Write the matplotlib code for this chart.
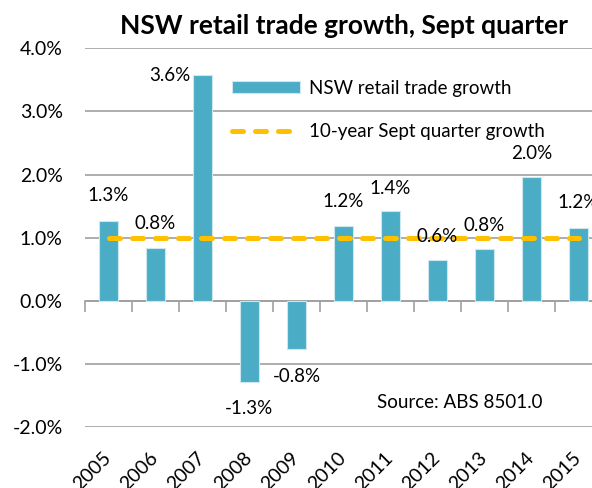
import numpy as np
import matplotlib
matplotlib.use('Agg')
import matplotlib.pyplot as plt

years = ['2005', '2006', '2007', '2008', '2009', '2010', '2011', '2012', '2013', '2014', '2015']
growth = [1.27, 0.83, 3.58, -1.28, -0.77, 1.19, 1.42, 0.64, 0.82, 1.96, 1.16]
avg_growth = [0.99, 0.99, 0.99, 0.99, 0.99, 0.99, 0.99, 0.99, 0.99, 0.99, 0.99]
yticks = [-2, -1, 0, 1, 2, 3, 4]

# label offsets in pixels (hand placed like the original)
label_dx = [0, 0, -33, 0, 0, 0, 0, 0, 0, 0, 0]
label_dy = [25, 25, -1, -27, -27, 24, 23, 24, 24, 24, 25]

plt.rcParams['font.family'] = ['Lato', 'DejaVu Sans']

fig = plt.figure(figsize=(5.92, 4.88), dpi=100)
ax = fig.add_axes([85/592, 61/488, 517/592, 378.7/488])

x = np.arange(len(years))
bars = ax.bar(x, growth, width=0.39, color='#4BACC6', edgecolor='#CDE7EF', linewidth=0.8,
              label='NSW retail trade growth', zorder=3)
line, = ax.plot(x, avg_growth, color='#FFC000', linewidth=3.6, linestyle=(0, (2.2, 2.4)),
                dash_capstyle='round', label='10-year Sept quarter growth', zorder=4)

for i, v in enumerate(growth):
    ax.annotate(f'{v:.1f}%', (x[i], v), xytext=(label_dx[i], label_dy[i]),
                textcoords='offset pixels', ha='center', va='center', fontsize=13.5, zorder=5)

ax.set_xlim(-0.5, len(years) - 0.5)
ax.set_ylim(-2, 4)
ax.set_yticks(yticks)
ax.set_yticklabels([f'{t:.1f}%' for t in yticks])
ax.yaxis.grid(True, color='#A0A0A0', linewidth=1.2, zorder=0)
ax.set_axisbelow(True)
for s in ax.spines.values():
    s.set_visible(False)
ax.tick_params(axis='y', length=0, pad=16, labelsize=14)
ax.set_xticks(x)
ax.set_xticklabels(years)
ax.tick_params(axis='x', length=0, pad=20, labelsize=14)
plt.setp(ax.get_xticklabels(), rotation=45, ha='right', va='center', rotation_mode='anchor')

# zero line with category tick marks
sec = ax.secondary_xaxis(1/3)
sec.set_xticks(np.arange(-0.5, len(years)), labels=[])
sec.tick_params(length=8, width=1.2, color='#A0A0A0', direction='out')
sec.spines['bottom'].set_color('#A0A0A0')
sec.spines['bottom'].set_linewidth(1.2)

ax.text(0.725, 0.066, 'Source: ABS 8501.0', transform=ax.transAxes, ha='center', va='center', fontsize=13.5)

fig.text(343.5/592, 1 - 26/488, 'NSW retail trade growth, Sept quarter', ha='center', va='center',
         fontsize=19, fontweight='bold')

leg = ax.legend([bars, line], ['NSW retail trade growth', '10-year Sept quarter growth'],
                loc='upper left', bbox_to_anchor=(232/592, 1 - 80/488), bbox_transform=fig.transFigure,
                frameon=False, fontsize=13.5, handlelength=3.6, handleheight=0.62, handletextpad=0.5,
                labelspacing=1.4, borderpad=0, borderaxespad=0)

fig.savefig('out.png', dpi=100)
